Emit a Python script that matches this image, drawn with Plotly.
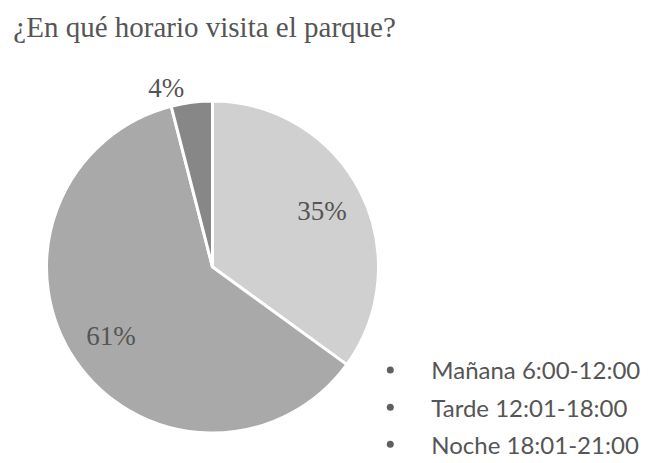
import plotly.graph_objects as go

labels = ["Mañana 6:00-12:00", "Tarde 12:01-18:00", "Noche 18:01-21:00"]
values = [35, 61, 4]
colors = ["#d0d0d0", "#a9a9a9", "#878787"]

pie_domain = {"x": [0.0575, 0.5585], "y": [0.082, 0.799]}
label_font = {"family": "Liberation Serif", "size": 27, "color": "#555555"}

fig = go.Figure()

# the slices
fig.add_trace(
    go.Pie(
        labels=labels,
        values=values,
        sort=False,
        direction="clockwise",
        rotation=0,
        marker={"colors": colors, "line": {"color": "white", "width": 3}},
        textinfo="none",
        showlegend=False,
        hoverinfo="skip",
        domain=pie_domain,
    )
)

# transparent ring on top, only to push the percent labels outward
fig.add_trace(
    go.Pie(
        labels=labels,
        values=values,
        sort=False,
        direction="clockwise",
        rotation=0,
        hole=0.48,
        marker={"colors": ["rgba(0,0,0,0)"] * 3, "line": {"width": 0}},
        texttemplate="%{percent:.0%}",
        textposition=["inside", "inside", "outside"],
        insidetextorientation="horizontal",
        textfont=label_font,
        showlegend=False,
        domain=pie_domain,
    )
)

# legend entries drawn as bullets
for i, name in enumerate(labels):
    fig.add_trace(
        go.Scatter(
            x=[None],
            y=[None],
            mode="markers",
            name=name,
            legendgroup=str(i),
            marker={"color": "#606060", "size": 7, "symbol": "circle"},
        )
    )

fig.update_layout(
    width=664,
    height=463,
    title={
        "text": "¿En qué horario visita el parque?",
        "x": 0.008,
        "xanchor": "left",
        "y": 0.96,
        "yanchor": "middle",
        "font": {"family": "Liberation Serif", "size": 29, "color": "#555555"},
    },
    legend={
        "x": 0.514,
        "y": 0.266,
        "xanchor": "left",
        "yanchor": "top",
        "font": {"family": "Lato", "size": 24, "color": "#555555"},
        "tracegroupgap": 3,
        "itemwidth": 72,
        "bgcolor": "rgba(0,0,0,0)",
    },
    xaxis={"visible": False},
    yaxis={"visible": False},
    margin={"l": 0, "r": 0, "t": 0, "b": 0},
    paper_bgcolor="white",
    plot_bgcolor="white",
)

fig.write_html("out.html")
